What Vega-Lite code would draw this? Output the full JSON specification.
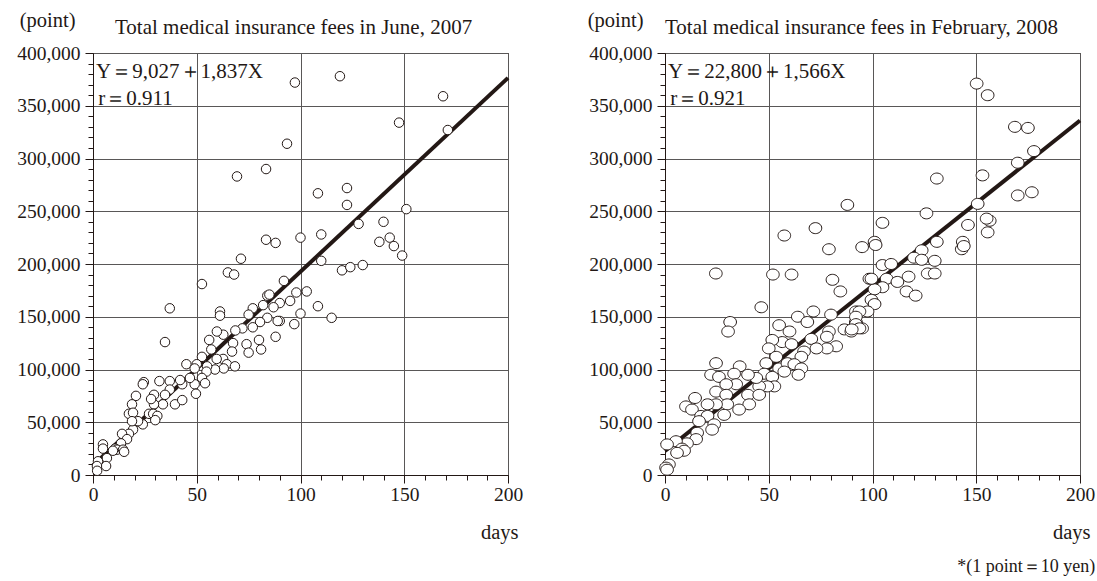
{
  "$schema": "https://vega.github.io/schema/vega-lite/v6.json",
  "autosize": {"type": "pad"},
  "padding": {"left": 16, "top": 9, "right": 0, "bottom": 0},
  "background": "white",
  "bounds": "flush",
  "spacing": 157,
  "config": {
    "font": "Liberation Serif",
    "view": {"stroke": "#231815", "strokeWidth": 1},
    "title": {"font": "Liberation Serif", "fontSize": 21, "fontWeight": "normal", "color": "#231815"},
    "axis": {"labelFont": "Liberation Serif", "titleFont": "Liberation Serif", "labelFontSize": 19.5, "titleFontSize": 20.5, "titleFontWeight": "normal", "labelColor": "#231815", "titleColor": "#231815", "domainColor": "#231815", "tickColor": "#231815", "gridColor": "#595757", "gridWidth": 1}
  },
  "title": {"text": "*(1 point＝10 yen)", "orient": "bottom", "anchor": "end", "fontSize": 18, "font": "Liberation Serif", "offset": 15},
  "datasets": {
    "jun_line": [{"day": 0, "value": 9027}, {"day": 200, "value": 376427}],
    "feb_line": [{"day": 0, "value": 22800}, {"day": 200, "value": 336000}],
    "jun": [
      {"day":97.3,"value":372000},{"day":119,"value":378000},{"day":168.7,"value":359000},{"day":147.5,"value":334000},{"day":171,"value":327000},{"day":93.5,"value":314000},{"day":83.4,"value":290000},{"day":69.4,"value":283000},
      {"day":83.4,"value":223000},{"day":88,"value":220000},{"day":100,"value":225000},{"day":108.4,"value":267000},{"day":122.4,"value":272000},{"day":122.4,"value":256000},{"day":151,"value":252000},{"day":128,"value":238000},{"day":140,"value":240000},{"day":110,"value":228000},{"day":138,"value":221000},{"day":143,"value":225000},{"day":145,"value":217000},{"day":149,"value":208000},{"day":110,"value":203000},{"day":120,"value":194000},{"day":124,"value":197000},{"day":130,"value":199000},{"day":92,"value":184000},{"day":98,"value":173000},{"day":103,"value":174000},{"day":95,"value":165000},{"day":90,"value":163000},{"day":108.4,"value":160000},{"day":100,"value":153000},{"day":115,"value":149000},{"day":97,"value":143000},{"day":90,"value":146000},
      {"day":71.3,"value":205000},{"day":65,"value":192000},{"day":68,"value":190000},{"day":52.5,"value":181000},{"day":61.2,"value":155000},{"day":61.2,"value":151000},{"day":37,"value":158000},{"day":34.7,"value":126000},
      {"day":84,"value":170000},{"day":85,"value":171000},{"day":77,"value":158000},{"day":75,"value":152000},{"day":82,"value":161000},{"day":87,"value":159000},{"day":89,"value":146000},{"day":84,"value":149000},{"day":80.5,"value":145000},{"day":77,"value":140000},{"day":88,"value":131000},{"day":80,"value":128000},{"day":81,"value":119000},{"day":72,"value":139000},{"day":68.6,"value":137000},{"day":62.8,"value":133000},{"day":56,"value":128000},{"day":57,"value":119000},{"day":59.7,"value":136000},{"day":67.5,"value":125000},{"day":74,"value":124000},{"day":75,"value":116000},{"day":67,"value":117000},{"day":62.7,"value":110000},{"day":59.6,"value":110000},{"day":64.5,"value":105000},{"day":68.4,"value":103000},{"day":63,"value":101000},{"day":58.8,"value":100000},{"day":52.5,"value":112000},{"day":45,"value":105000},{"day":50,"value":105000},{"day":55,"value":103000},{"day":54.7,"value":98000},{"day":49,"value":101000},{"day":52.5,"value":92000},{"day":49,"value":86000},{"day":49.6,"value":77000},{"day":54,"value":87000},{"day":43,"value":86000},{"day":46.7,"value":92000},{"day":42,"value":90000},{"day":37,"value":89000},{"day":32,"value":89000},{"day":24.5,"value":88000},{"day":24,"value":86000},{"day":29.4,"value":76000},{"day":37,"value":81000},{"day":34.7,"value":76000},{"day":39.5,"value":67000},{"day":43,"value":71000},{"day":33.7,"value":67000},{"day":29.4,"value":67000},{"day":27,"value":58000},{"day":29,"value":58000},{"day":31,"value":56000},{"day":30,"value":52000},{"day":28,"value":72000},{"day":20.7,"value":75000},{"day":18.8,"value":67000},{"day":17.3,"value":58000},{"day":19.3,"value":59000},{"day":24,"value":48000},{"day":19.3,"value":43000},{"day":17.3,"value":39000},{"day":14,"value":39000},{"day":21.7,"value":51000},{"day":18.8,"value":51000},{"day":16.4,"value":34000},{"day":13.5,"value":30000},{"day":10.6,"value":25000},{"day":11.6,"value":24000},{"day":9.6,"value":23000},{"day":4.8,"value":29000},{"day":4.8,"value":25000},{"day":6.7,"value":16000},{"day":6.3,"value":8500},{"day":2.4,"value":13000},{"day":1.9,"value":8500},{"day":2,"value":4000},{"day":14.5,"value":24000},{"day":15,"value":22000}
    ],
    "feb": [
      {"day":150.2,"value":371000},{"day":155.5,"value":360000},{"day":168.6,"value":330000},{"day":174.9,"value":329000},{"day":177.8,"value":307000},{"day":170,"value":296000},{"day":153,"value":284000},{"day":131,"value":281000},{"day":176.8,"value":268000},{"day":170,"value":265000},{"day":150.7,"value":257000},{"day":126,"value":248000},{"day":87.9,"value":256000},{"day":72.5,"value":234000},{"day":57.5,"value":227000},{"day":104.8,"value":239000},{"day":156.5,"value":241000},{"day":155,"value":243000},{"day":155.5,"value":230000},{"day":146,"value":237000},{"day":101,"value":221000},{"day":131,"value":221000},{"day":143.5,"value":221000},{"day":79,"value":214000},{"day":95,"value":216000},{"day":24.5,"value":191000},{"day":52,"value":190000},{"day":61,"value":190000},{"day":80.7,"value":185000},{"day":84.5,"value":174000},{"day":98.5,"value":186000},{"day":46.4,"value":159000},{"day":31.4,"value":145000},{"day":30.4,"value":136000},{"day":55,"value":142000},{"day":64,"value":150000},{"day":71.5,"value":155000},{"day":68.6,"value":145000},{"day":80,"value":152000},{"day":92,"value":155000},{"day":92,"value":145000},{"day":95,"value":139000},{"day":86.5,"value":138000},{"day":89.8,"value":136000},{"day":79,"value":136000},{"day":78,"value":131000},{"day":82.5,"value":122000},{"day":78,"value":120000},{"day":70.5,"value":129000},{"day":73,"value":120000},{"day":67,"value":117000},{"day":65.7,"value":112000},{"day":60,"value":136000},{"day":56.5,"value":126000},{"day":61,"value":124000},{"day":51.7,"value":128000},{"day":50,"value":120000},{"day":53.6,"value":112000},{"day":55,"value":101000},{"day":59,"value":106000},{"day":62.3,"value":105000},{"day":65.7,"value":101000},{"day":64.3,"value":95000},{"day":57.5,"value":98000},{"day":48.8,"value":106000},{"day":47.8,"value":96000},{"day":51.7,"value":93000},{"day":52.7,"value":84000},{"day":49.3,"value":84000},{"day":45.4,"value":84000},{"day":44,"value":92000},{"day":40,"value":95000},{"day":36,"value":103000},{"day":33.3,"value":96000},{"day":24.6,"value":106000},{"day":22.2,"value":95000},{"day":26,"value":93000},{"day":34.3,"value":86000},{"day":29.5,"value":86000},{"day":24.6,"value":79000},{"day":29.5,"value":76000},{"day":40,"value":76000},{"day":45.4,"value":76000},{"day":40.6,"value":67000},{"day":35.7,"value":62000},{"day":30,"value":67000},{"day":24.6,"value":67000},{"day":20.5,"value":67000},{"day":14.5,"value":73000},{"day":10.1,"value":65000},{"day":13,"value":62000},{"day":17.4,"value":56000},{"day":20.5,"value":56000},{"day":28.5,"value":57000},{"day":23.7,"value":48000},{"day":16.4,"value":51000},{"day":22.7,"value":43000},{"day":15.5,"value":40000},{"day":15,"value":34000},{"day":10.6,"value":30000},{"day":5.3,"value":32000},{"day":8.2,"value":25000},{"day":9.2,"value":23000},{"day":5.8,"value":21000},{"day":1,"value":29000},{"day":1.9,"value":10000},{"day":0.5,"value":7000},{"day":1,"value":5000},
      {"day":101.5,"value":218000},{"day":123.7,"value":213000},{"day":143,"value":214000},{"day":144,"value":217000},{"day":120,"value":206000},{"day":123.7,"value":204000},{"day":130,"value":203000},{"day":104.8,"value":199000},{"day":109,"value":200000},{"day":126.6,"value":191000},{"day":130,"value":191000},{"day":117.4,"value":188000},{"day":106.8,"value":186000},{"day":112,"value":183000},{"day":104.8,"value":178000},{"day":101,"value":176000},{"day":116.4,"value":174000},{"day":120.8,"value":170000},{"day":99.5,"value":166000},{"day":101,"value":162000},{"day":97.6,"value":155000},{"day":93.7,"value":155000},{"day":92,"value":150000},{"day":92,"value":143000},{"day":93.7,"value":139000},{"day":90,"value":138000},{"day":99.5,"value":186000}
    ]
  },
  "hconcat": [
    {
      "width": 415, "height": 422,
      "title": {"text": "Total medical insurance fees in June, 2007", "anchor": "start", "frame": "group", "dx": 22, "offset": -28},
      "encoding": {
        "x": {"field": "day", "type": "quantitative", "scale": {"domain": [0, 200], "nice": false},
          "axis": {"values": [0,10,20,30,40,50,60,70,80,90,100,110,120,130,140,150,160,170,180,190,200], "format": "d", "labelExpr": "datum.value % 50 === 0 ? datum.label : ''", "labelOverlap": false, "labelFlush": false, "grid": true, "gridOpacity": {"condition": {"test": "datum.value % 50 === 0", "value": 1}, "value": 0}, "tickSize": {"condition": {"test": "datum.value % 50 === 0", "value": 8}, "value": 5}, "labelPadding": 2, "title": "days", "titleAlign": "right", "titleX": 425, "titleY": 63, "titleBaseline": "alphabetic", "titleAnchor": null}},
        "y": {"field": "value", "type": "quantitative", "scale": {"domain": [0, 400000], "nice": false},
          "axis": {"values": [0,10000,20000,30000,40000,50000,60000,70000,80000,90000,100000,110000,120000,130000,140000,150000,160000,170000,180000,190000,200000,210000,220000,230000,240000,250000,260000,270000,280000,290000,300000,310000,320000,330000,340000,350000,360000,370000,380000,390000,400000], "format": ",d", "labelExpr": "datum.value % 50000 === 0 ? datum.label : ''", "labelOverlap": false, "labelFlush": false, "grid": true, "gridOpacity": {"condition": {"test": "datum.value % 50000 === 0", "value": 1}, "value": 0}, "tickSize": {"condition": {"test": "datum.value % 50000 === 0", "value": 8}, "value": 5}, "labelPadding": 5, "title": "(point)", "titleAngle": 0, "titleAlign": "right", "titleX": -18, "titleY": -27, "titleBaseline": "alphabetic"}}
      },
      "layer": [
        {"data": {"name": "jun_line"}, "mark": {"type": "line", "color": "#231815", "strokeWidth": 4}},
        {"data": {"name": "jun"}, "mark": {"type": "point", "shape": "circle", "filled": false, "fill": "white", "fillOpacity": 1, "stroke": "#231815", "strokeWidth": 1, "opacity": 1, "size": 90}},
        {"data": {"values": [{"label": "Y＝9,027＋1,837X", "d": 1.5, "v": 382000}, {"label": "r＝0.911", "d": 2.5, "v": 356000}]},
         "mark": {"type": "text", "align": "left", "baseline": "middle", "fontSize": 21, "font": "Liberation Serif", "color": "#231815"},
         "encoding": {"x": {"field": "d", "type": "quantitative"}, "y": {"field": "v", "type": "quantitative"}, "text": {"field": "label"}}}
      ]
    },
    {
      "width": 415, "height": 422,
      "title": {"text": "Total medical insurance fees in February, 2008", "anchor": "start", "frame": "group", "dx": 0, "offset": -28},
      "encoding": {
        "x": {"field": "day", "type": "quantitative", "scale": {"domain": [0, 200], "nice": false},
          "axis": {"values": [0,10,20,30,40,50,60,70,80,90,100,110,120,130,140,150,160,170,180,190,200], "format": "d", "labelExpr": "datum.value % 50 === 0 ? datum.label : ''", "labelOverlap": false, "labelFlush": false, "grid": true, "gridOpacity": {"condition": {"test": "datum.value % 50 === 0", "value": 1}, "value": 0}, "tickSize": {"condition": {"test": "datum.value % 50 === 0", "value": 8}, "value": 5}, "labelPadding": 2, "title": "days", "titleAlign": "right", "titleX": 425, "titleY": 63, "titleBaseline": "alphabetic", "titleAnchor": null}},
        "y": {"field": "value", "type": "quantitative", "scale": {"domain": [0, 400000], "nice": false},
          "axis": {"values": [0,10000,20000,30000,40000,50000,60000,70000,80000,90000,100000,110000,120000,130000,140000,150000,160000,170000,180000,190000,200000,210000,220000,230000,240000,250000,260000,270000,280000,290000,300000,310000,320000,330000,340000,350000,360000,370000,380000,390000,400000], "format": ",d", "labelExpr": "datum.value % 50000 === 0 ? datum.label : ''", "labelOverlap": false, "labelFlush": false, "grid": true, "gridOpacity": {"condition": {"test": "datum.value % 50000 === 0", "value": 1}, "value": 0}, "tickSize": {"condition": {"test": "datum.value % 50000 === 0", "value": 8}, "value": 5}, "labelPadding": 5, "title": "(point)", "titleAngle": 0, "titleAlign": "right", "titleX": -22, "titleY": -27, "titleBaseline": "alphabetic"}}
      },
      "layer": [
        {"data": {"name": "feb_line"}, "mark": {"type": "line", "color": "#231815", "strokeWidth": 4}},
        {"data": {"name": "feb"}, "mark": {"type": "point", "shape": "M-1.15,0A1.15,1,0,1,1,1.15,0A1.15,1,0,1,1,-1.15,0Z", "filled": false, "fill": "white", "fillOpacity": 1, "stroke": "#231815", "strokeWidth": 1, "opacity": 1, "size": 121}},
        {"data": {"values": [{"label": "Y＝22,800＋1,566X", "d": 1.5, "v": 382000}, {"label": "r＝0.921", "d": 2.5, "v": 356000}]},
         "mark": {"type": "text", "align": "left", "baseline": "middle", "fontSize": 21, "font": "Liberation Serif", "color": "#231815"},
         "encoding": {"x": {"field": "d", "type": "quantitative"}, "y": {"field": "v", "type": "quantitative"}, "text": {"field": "label"}}}
      ]
    }
  ]
}
